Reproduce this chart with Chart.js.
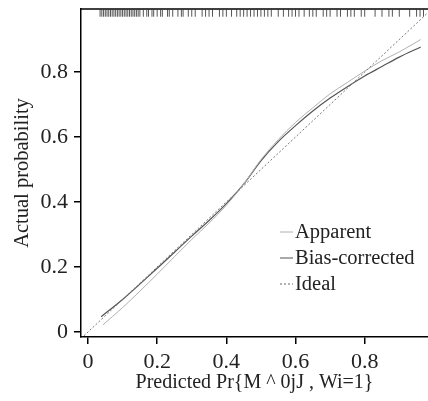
<!DOCTYPE html>
<html>
<head>
<meta charset="utf-8">
<script src="https://cdn.jsdelivr.net/npm/chart.js@4/dist/chart.umd.min.js"></script>
<style>
  html, body { margin: 0; padding: 0; background: #fff; }
  #wrap { width: 428px; height: 401px; }
</style>
</head>
<body>
<div id="wrap"><canvas id="calChart" width="428" height="401"></canvas></div>
<script>
// predicted probability grid for the calibration curves
const apparentX = [0.043, 0.1, 0.2, 0.3, 0.35, 0.4, 0.45, 0.5, 0.55, 0.6, 0.65, 0.7, 0.75, 0.8, 0.85, 0.9, 0.962];
const apparentY = [0.022, 0.075, 0.178, 0.285, 0.335, 0.39, 0.455, 0.53, 0.592, 0.645, 0.69, 0.733, 0.768, 0.803, 0.835, 0.862, 0.9];
const biasX = [0.038, 0.1, 0.2, 0.3, 0.35, 0.4, 0.45, 0.5, 0.55, 0.6, 0.65, 0.7, 0.75, 0.8, 0.85, 0.9, 0.962];
const biasY = [0.047, 0.1, 0.196, 0.295, 0.343, 0.395, 0.455, 0.527, 0.586, 0.635, 0.68, 0.72, 0.755, 0.788, 0.817, 0.846, 0.877];
const idealX = [-0.02, 1];
// rug of predicted values along the top
const rugX = [0.035, 0.04, 0.045, 0.05, 0.055, 0.06, 0.065, 0.07, 0.075, 0.08, 0.085, 0.09, 0.095, 0.1, 0.105,
  0.11, 0.115, 0.12, 0.125, 0.13, 0.135, 0.14, 0.145, 0.15, 0.16, 0.17, 0.175, 0.185, 0.19, 0.2, 0.21, 0.215,
  0.23, 0.235, 0.245, 0.26, 0.27, 0.275, 0.29, 0.3, 0.31, 0.33, 0.34, 0.35, 0.36, 0.38, 0.39, 0.4, 0.415, 0.43,
  0.44, 0.45, 0.46, 0.47, 0.48, 0.49, 0.5, 0.51, 0.52, 0.53, 0.55, 0.565, 0.58, 0.59, 0.6, 0.61, 0.625, 0.64,
  0.65, 0.66, 0.68, 0.69, 0.7, 0.72, 0.73, 0.75, 0.76, 0.77, 0.79, 0.8, 0.83, 0.85, 0.87, 0.88, 0.9, 0.93,
  0.95, 0.96, 0.97];
const xTicks = [0, 0.2, 0.4, 0.6, 0.8];
const yTicks = [0, 0.2, 0.4, 0.6, 0.8];
const legendLabels = ["Apparent", "Bias-corrected", "Ideal"];

const serif = "'Liberation Serif', 'DejaVu Serif', serif";
const toPts = (xs, ys) => xs.map((x, i) => ({ x: x, y: ys[i] }));

// draws the top frame line and the inside legend
const framePlugin = {
  id: "frame",
  afterDraw(chart) {
    const ctx = chart.ctx;
    const a = chart.chartArea;
    ctx.save();
    ctx.strokeStyle = "#000";
    ctx.lineWidth = 1.5;
    ctx.beginPath();
    ctx.moveTo(a.left, a.top);
    ctx.lineTo(a.right, a.top);
    ctx.stroke();

    const styles = [
      { color: "#b0b0b0", dash: [] },
      { color: "#555", dash: [] },
      { color: "#666", dash: [2, 2] }
    ];
    const rows = [232, 258, 284];
    ctx.font = "20.5px " + serif;
    ctx.textBaseline = "middle";
    ctx.fillStyle = "#222";
    legendLabels.forEach((lab, i) => {
      ctx.strokeStyle = styles[i].color;
      ctx.lineWidth = 1;
      ctx.setLineDash(styles[i].dash);
      ctx.beginPath();
      ctx.moveTo(280, rows[i]);
      ctx.lineTo(293, rows[i]);
      ctx.stroke();
      ctx.setLineDash([]);
      ctx.fillText(lab, 295, rows[i] + 1);
    });
    ctx.restore();
  }
};

const ctx = document.getElementById("calChart").getContext("2d");
new Chart(ctx, {
  type: "scatter",
  data: {
    datasets: [
      {
        label: "Ideal",
        data: toPts(idealX, idealX),
        showLine: true,
        borderColor: "#777",
        borderWidth: 1,
        borderDash: [2, 2],
        pointRadius: 0
      },
      {
        label: "Apparent",
        data: toPts(apparentX, apparentY),
        showLine: true,
        borderColor: "#b0b0b0",
        borderWidth: 1,
        cubicInterpolationMode: "monotone",
        pointRadius: 0
      },
      {
        label: "Bias-corrected",
        data: toPts(biasX, biasY),
        showLine: true,
        borderColor: "#555",
        borderWidth: 1.2,
        cubicInterpolationMode: "monotone",
        pointRadius: 0
      },
      {
        label: "rug",
        data: rugX.map(x => ({ x: x, y: 0.981 })),
        pointStyle: "line",
        rotation: 90,
        pointRadius: 3.5,
        pointBorderColor: "#555",
        pointBorderWidth: 1
      }
    ]
  },
  options: {
    responsive: false,
    animation: false,
    layout: { autoPadding: false, padding: { top: 9, right: 0, left: 0, bottom: 0 } },
    plugins: { legend: { display: false }, tooltip: { enabled: false } },
    scales: {
      x: {
        type: "linear",
        min: -0.0202,
        max: 0.983,
        afterBuildTicks: s => { s.ticks = xTicks.map(v => ({ value: v })); },
        afterFit: s => { s.height = 64; s.paddingLeft = 0; s.paddingRight = 0; },
        border: { display: true, color: "#000", width: 1.5 },
        grid: { drawOnChartArea: false, drawTicks: true, tickLength: 7, color: "#000", lineWidth: 1.5 },
        ticks: {
          color: "#222",
          padding: 5,
          font: { family: serif, size: 22 },
          callback: v => v === 0 ? "0" : v.toFixed(1)
        },
        title: {
          display: true,
          text: "Predicted Pr{M ^ 0jJ , Wi=1}",
          color: "#222",
          font: { family: serif, size: 20 },
          padding: { top: 2, bottom: 6 }
        }
      },
      y: {
        type: "linear",
        min: -0.0154,
        max: 0.994,
        afterBuildTicks: s => { s.ticks = yTicks.map(v => ({ value: v })); },
        afterFit: s => { s.width = 81; s.paddingTop = 0; s.paddingBottom = 0; },
        border: { display: true, color: "#000", width: 1.5 },
        grid: { drawOnChartArea: false, drawTicks: true, tickLength: 7, color: "#000", lineWidth: 1.5 },
        ticks: {
          color: "#222",
          padding: 6,
          font: { family: serif, size: 22 },
          callback: v => v === 0 ? "0" : v.toFixed(1)
        },
        title: {
          display: true,
          text: "Actual probability",
          color: "#222",
          font: { family: serif, size: 20.5 },
          padding: { top: 10, bottom: 4 }
        }
      }
    }
  },
  plugins: [framePlugin]
});
</script>
</body>
</html>
